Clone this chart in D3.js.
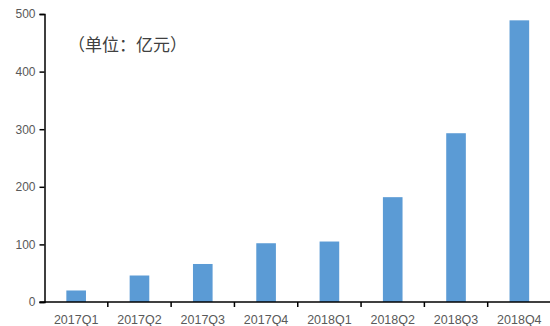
<!DOCTYPE html>
<html>
<head>
<meta charset="utf-8">
<script src="https://cdn.jsdelivr.net/npm/d3@7"></script>
<style>
  html, body { margin: 0; padding: 0; background: #fff; }
  svg { display: block; }
</style>
</head>
<body>
<svg id="chart" width="550" height="326"></svg>
<script>
// Quarterly amounts (亿元)
const quarters = ["2017Q1", "2017Q2", "2017Q3", "2017Q4", "2018Q1", "2018Q2", "2018Q3", "2018Q4"];
const amounts = [20, 46, 66, 102, 105, 182, 293, 489];
const yTicks = [0, 100, 200, 300, 400, 500];
const unitLabel = "（单位：亿元）";

const svg = d3.select("#chart");
const plot = { left: 44.5, right: 551, top: 14, bottom: 302 };

const x = d3.scaleBand()
  .domain(quarters)
  .range([plot.left, plot.right])
  .paddingInner(0.69)
  .paddingOuter(0.345);

const xEdges = d3.scaleBand().domain(quarters).range([plot.left, plot.right]);

const y = d3.scaleLinear().domain([0, 500]).range([plot.bottom, plot.top]);

// bars
svg.append("g")
  .selectAll("rect")
  .data(quarters)
  .join("rect")
  .attr("x", d => x(d))
  .attr("width", x.bandwidth())
  .attr("y", (d, i) => y(amounts[i]))
  .attr("height", (d, i) => y(0) - y(amounts[i]))
  .attr("fill", "#5B9BD5");

// y axis
const yAxis = svg.append("g")
  .attr("transform", `translate(${plot.left},0)`)
  .call(d3.axisLeft(y).tickValues(yTicks).tickSize(5).tickPadding(4));
yAxis.select(".domain").attr("stroke", "#000").attr("stroke-width", 1.5);
yAxis.selectAll(".tick line").attr("stroke", "#000").attr("stroke-width", 1.5);
yAxis.selectAll("text")
  .attr("fill", "#595959")
  .style("font-family", "'Liberation Sans', Arial, sans-serif")
  .style("font-size", "12px");

// x axis: ticks at category boundaries
const xAxisG = svg.append("g").attr("transform", `translate(0,${plot.bottom})`);
xAxisG.append("line")
  .attr("x1", plot.left - 5).attr("x2", plot.right)
  .attr("stroke", "#000").attr("stroke-width", 1.5);
xAxisG.selectAll("line.tk")
  .data(quarters.slice(1))
  .join("line")
  .attr("class", "tk")
  .attr("x1", d => xEdges(d)).attr("x2", d => xEdges(d))
  .attr("y1", 0).attr("y2", 5)
  .attr("stroke", "#000").attr("stroke-width", 1.5);
xAxisG.selectAll("text")
  .data(quarters)
  .join("text")
  .attr("x", d => x(d) + x.bandwidth() / 2)
  .attr("y", 22)
  .attr("text-anchor", "middle")
  .attr("fill", "#595959")
  .style("font-family", "'Liberation Sans', Arial, sans-serif")
  .style("font-size", "12.5px")
  .text(d => d);

// unit note
svg.append("text")
  .attr("x", 68)
  .attr("y", 51)
  .attr("fill", "#404040")
  .style("font-family", "'Noto Sans CJK SC', sans-serif")
  .style("font-size", "17px")
  .text(unitLabel);
</script>
</body>
</html>
